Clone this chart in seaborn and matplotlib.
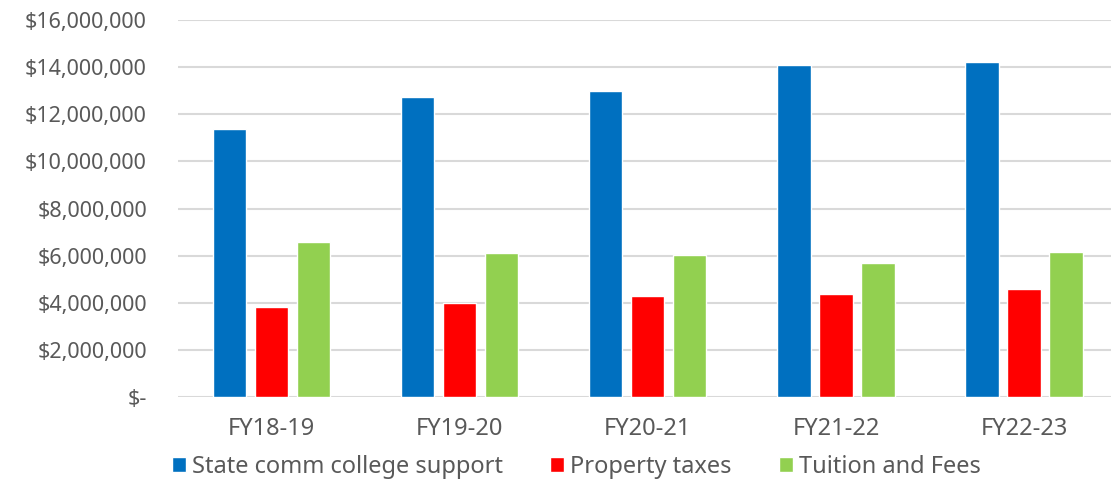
import pandas as pd
import matplotlib.pyplot as plt
import matplotlib.ticker as mticker
import seaborn as sns

# valores
years = ['FY18-19', 'FY19-20', 'FY20-21', 'FY21-22', 'FY22-23']
state_support = [11370000, 12740000, 13010000, 14110000, 14230000]
property_taxes = [3840000, 3990000, 4310000, 4360000, 4570000]
tuition_fees = [6580000, 6100000, 6050000, 5690000, 6170000]

series = ['State comm college support', 'Property taxes', 'Tuition and Fees']
colors = ['#0070C0', '#FF0000', '#92D050']

df = pd.DataFrame({
    'year': years * 3,
    'source': [series[0]] * 5 + [series[1]] * 5 + [series[2]] * 5,
    'value': state_support + property_taxes + tuition_fees,
})

sns.set_style('white')
plt.rcParams['font.family'] = ['Noto Sans', 'DejaVu Sans']

fig = plt.figure(figsize=(11.11, 4.79), dpi=100)
ax = fig.add_axes([0.1598, 0.171, 0.8466, 0.787])

sns.barplot(data=df, x='year', y='value', hue='source', hue_order=series,
            palette=colors, width=0.67, gap=0.21, saturation=1, ax=ax,
            legend=True)

ax.set_ylim(0, 16000000)
ax.set_xlim(-0.5, 4.5)
ax.yaxis.set_major_locator(mticker.MultipleLocator(2000000))


def money(v, pos):
    if v == 0:
        return '$-'
    return '${:,.0f}'.format(v)


ax.yaxis.set_major_formatter(mticker.FuncFormatter(money))
ax.grid(axis='y', color='#d9d9d9', linewidth=1.5)
ax.set_axisbelow(True)
for s in ax.spines.values():
    s.set_visible(False)

ax.set_xlabel('')
ax.set_ylabel('')
ax.tick_params(axis='y', length=0, pad=22, labelsize=15.5, labelcolor='#595959')
ax.tick_params(axis='x', length=0, pad=14, labelsize=17, labelcolor='#595959')

handles, labels = ax.get_legend_handles_labels()
ax.legend(handles, labels, loc='center', bbox_to_anchor=(0.4237, -0.186),
          ncol=3, frameon=False, fontsize=17, handlelength=0.6,
          handleheight=0.6, handletextpad=0.25, columnspacing=2.0,
          labelcolor='#595959', borderpad=0, borderaxespad=0)

plt.savefig('out.png', dpi=100)
